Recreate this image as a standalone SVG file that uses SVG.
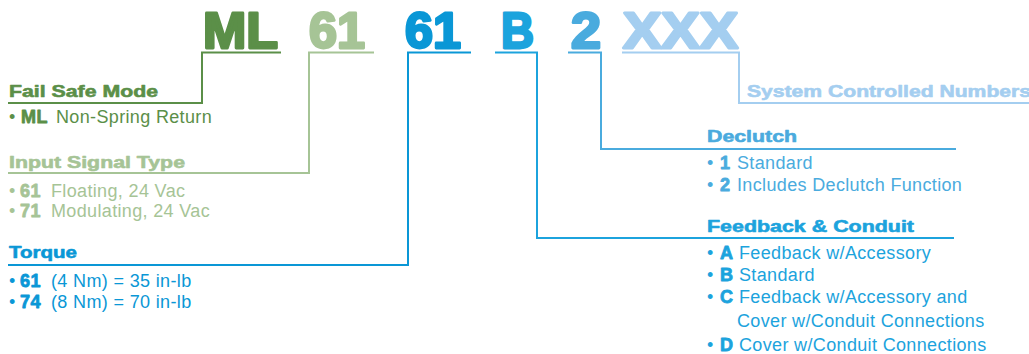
<svg xmlns="http://www.w3.org/2000/svg" width="1029" height="354" viewBox="0 0 1029 354">
<style>
  .big{font-family:"Liberation Sans",Arial,sans-serif;font-weight:bold;font-size:50px;stroke-width:2.8;stroke-linejoin:round}
  .hd{font-family:"Liberation Sans",Arial,sans-serif;font-weight:bold;font-size:17px;stroke-width:0.6;stroke-linejoin:round}
  .it{font-family:"Liberation Sans",Arial,sans-serif;font-size:18px;letter-spacing:0.35px}
  .b{font-weight:bold;stroke-width:0.8;letter-spacing:0.6px;stroke-linejoin:round}
  .ln{fill:none;stroke-width:2}
  .g1{fill:#5b8f48;stroke:#5b8f48}
  .g2{fill:#a6c496;stroke:#a6c496}
  .b1{fill:#0a97d6;stroke:#0a97d6}
  .b2{fill:#1ca3dd;stroke:#1ca3dd}
  .b3{fill:#4aabde;stroke:#4aabde}
  .b4{fill:#a4cef0;stroke:#a4cef0}
  .it.g1,.it.g2,.it.b1,.it.b2,.it.b3{stroke:none}
  .ln.g1,.ln.g2,.ln.b1,.ln.b2,.ln.b3,.ln.b4{fill:none}
</style>
<g id="connectors">
  <path class="ln g1" d="M281,52.5 H202 V103 H8"/>
  <path class="ln g2" d="M374,52.5 H309 V173 H8"/>
  <path class="ln b1" d="M471,52.5 H408 V265 H8"/>
  <path class="ln b2" d="M495,52.5 H537 V238 H954"/>
  <path class="ln b3" d="M568,52.5 H601 V149 H956"/>
  <path class="ln b4" d="M622,52.5 H739 V103 H1029"/>
</g>
<g id="code">
  <text class="big g1" x="203" y="48" textLength="75" lengthAdjust="spacingAndGlyphs">ML</text>
  <text class="big g2" x="309" y="48" textLength="56" lengthAdjust="spacingAndGlyphs">61</text>
  <text class="big b1" x="405" y="48" textLength="56" lengthAdjust="spacingAndGlyphs">61</text>
  <text class="big b2" x="501" y="48" textLength="33" lengthAdjust="spacingAndGlyphs">B</text>
  <text class="big b3" x="571" y="48" textLength="30" lengthAdjust="spacingAndGlyphs">2</text>
  <text class="big b4" x="623" y="48" textLength="115" lengthAdjust="spacingAndGlyphs">XXX</text>
</g>
<g id="fail-safe-mode">
  <text class="hd g1" x="9" y="97" textLength="149" lengthAdjust="spacingAndGlyphs">Fail Safe Mode</text>
  <text class="it g1" x="9" y="123">•<tspan class="b" x="21" style="stroke:#5b8f48">ML</tspan><tspan x="56">Non-Spring Return</tspan></text>
</g>
<g id="input-signal-type">
  <text class="hd g2" x="9" y="168" textLength="176" lengthAdjust="spacingAndGlyphs">Input Signal Type</text>
  <text class="it g2" x="9" y="197">•<tspan class="b" x="20" style="stroke:#a6c496">61</tspan><tspan x="51">Floating, 24 Vac</tspan></text>
  <text class="it g2" x="9" y="217">•<tspan class="b" x="20" style="stroke:#a6c496">71</tspan><tspan x="51">Modulating, 24 Vac</tspan></text>
</g>
<g id="torque">
  <text class="hd b1" x="9" y="258" textLength="68" lengthAdjust="spacingAndGlyphs">Torque</text>
  <text class="it b1" x="9" y="287">•<tspan class="b" x="20" style="stroke:#0a97d6">61</tspan><tspan x="51">(4 Nm) = 35 in-lb</tspan></text>
  <text class="it b1" x="9" y="308">•<tspan class="b" x="20" style="stroke:#0a97d6">74</tspan><tspan x="51">(8 Nm) = 70 in-lb</tspan></text>
</g>
<g id="declutch">
  <text class="hd b3" x="707" y="142" textLength="90" lengthAdjust="spacingAndGlyphs">Declutch</text>
  <text class="it b3" x="707" y="169">•<tspan class="b" x="720" style="stroke:#4aabde">1</tspan><tspan x="737">Standard</tspan></text>
  <text class="it b3" x="707" y="191">•<tspan class="b" x="720" style="stroke:#4aabde">2</tspan><tspan x="737">Includes Declutch Function</tspan></text>
</g>
<g id="feedback-conduit">
  <text class="hd b2" x="707" y="232" textLength="207" lengthAdjust="spacingAndGlyphs">Feedback &amp; Conduit</text>
  <text class="it b2" x="707" y="259">•<tspan class="b" x="720" style="stroke:#1ca3dd">A</tspan><tspan x="739">Feedback w/Accessory</tspan></text>
  <text class="it b2" x="707" y="281">•<tspan class="b" x="720" style="stroke:#1ca3dd">B</tspan><tspan x="739">Standard</tspan></text>
  <text class="it b2" x="707" y="303">•<tspan class="b" x="720" style="stroke:#1ca3dd">C</tspan><tspan x="739">Feedback w/Accessory and</tspan><tspan x="737" y="327">Cover w/Conduit Connections</tspan></text>
  <text class="it b2" x="707" y="351">•<tspan class="b" x="720" style="stroke:#1ca3dd">D</tspan><tspan x="739">Cover w/Conduit Connections</tspan></text>
</g>
<g id="system-controlled-numbers">
  <text class="hd b4" x="747" y="97" textLength="284" lengthAdjust="spacingAndGlyphs">System Controlled Numbers</text>
</g>
</svg>
